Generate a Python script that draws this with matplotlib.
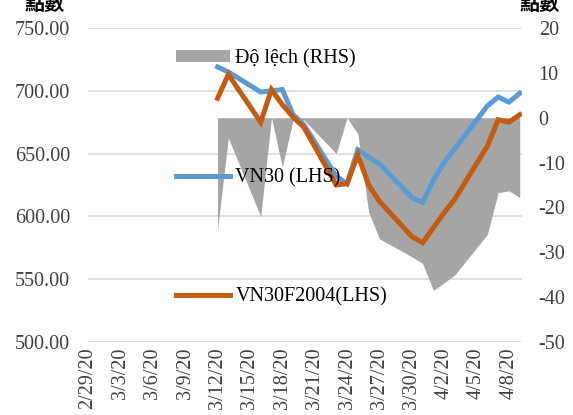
import numpy as np
import pandas as pd
import matplotlib
matplotlib.use('Agg')
import matplotlib.pyplot as plt
import matplotlib.dates as mdates
from matplotlib.transforms import blended_transform_factory
from matplotlib.patches import Patch
from matplotlib.lines import Line2D

# trading days shown on the chart
dates = ['2020-03-12', '2020-03-13', '2020-03-16', '2020-03-17', '2020-03-18',
         '2020-03-19', '2020-03-20', '2020-03-23', '2020-03-24', '2020-03-25',
         '2020-03-26', '2020-03-27', '2020-03-30', '2020-03-31', '2020-04-01',
         '2020-04-02', '2020-04-03', '2020-04-06', '2020-04-07', '2020-04-08',
         '2020-04-09']

# VN30 index (LHS)
vn30 = [719, 715, 699, 700, 701, 681, 673, 632, 626, 653, 647,
        642, 615, 611, 629, 643, 654, 688, 695, 691, 698]

# VN30F2004 futures (LHS)
vn30f = [694, 713, 675, 701, 689, 679, 671, 625, 626, 649, 625,
         612, 584, 579, 591, 603, 614, 656, 677, 675, 681]

# basis / deviation (RHS)
deviation = [-25, -4.5, -22, 0, -11, -0.5, -0.5, -8, 0, -3.6, -21,
             -27, -31, -32.5, -38.5, -36.8, -35, -26, -16.7, -16.3, -17.8]

left_ticks = [500, 550, 600, 650, 700, 750]
right_ticks = [-50, -40, -30, -20, -10, 0, 10, 20]

labels = ['Độ lệch (RHS)', 'VN30 (LHS)', 'VN30F2004(LHS)']

BLUE = '#5B9BD5'
ORANGE = '#C55A11'
GRAY = '#A5A5A5'

plt.rcParams['font.family'] = ['Liberation Serif', 'DejaVu Serif']
FS = 14.5

x = pd.to_datetime(dates)

fig = plt.figure(figsize=(5.73, 4.15), dpi=100)
ax = fig.add_axes([88 / 573, 1 - 342 / 415, (522 - 88) / 573, (342 - 28) / 415])
ax2 = ax.twinx()

ax.set_ylim(500, 750)
ax2.set_ylim(-50, 20)

# gray area drawn on the left axes but scaled by the right axis values
trans = blended_transform_factory(ax.transData, ax2.transData)
ax.fill_between(x, deviation, 0, color=GRAY, linewidth=0, transform=trans, zorder=1)

ax.plot(x, vn30, color=BLUE, lw=3.6, solid_joinstyle='miter', zorder=3)
ax.plot(x, vn30f, color=ORANGE, lw=3.6, solid_joinstyle='miter', zorder=4)

ax.set_yticks(left_ticks)
ax.set_yticklabels(['%.2f' % v for v in left_ticks])
ax2.set_yticks(right_ticks)
ax2.set_yticklabels([str(v) for v in right_ticks])

ax.set_axisbelow(True)
ax.grid(axis='y', color='#D9D9D9', lw=1.2)

xt = pd.date_range('2020-02-29', '2020-04-08', freq='3D')
ax.set_xticks(xt)
ax.set_xticklabels([d.strftime('%-m/%-d/%y') for d in xt], rotation=90,
                   va='top', ha='center')
ax.set_xlim(pd.Timestamp('2020-02-29'), pd.Timestamp('2020-04-09 05:00'))

for a in (ax, ax2):
    for s in a.spines.values():
        s.set_visible(False)
    a.tick_params(length=0, labelsize=FS, colors='#404040')
ax.tick_params(axis='y', pad=13)
ax2.tick_params(axis='y', pad=12)
ax.tick_params(axis='x', pad=4)

handles = [Patch(facecolor=GRAY, edgecolor='none'),
           Line2D([], [], color=BLUE, lw=3.6),
           Line2D([], [], color=ORANGE, lw=3.6)]
ax.legend(handles, labels, loc='upper left', bbox_to_anchor=(176 / 573, 1 - 49 / 415),
          bbox_transform=fig.transFigure, frameon=False, fontsize=FS,
          handlelength=2.7, handleheight=0.5, handletextpad=0.25,
          labelspacing=4.95, borderpad=0, borderaxespad=0)

fig.text(45 / 573, 1 - 3 / 415, '點數', family=['Noto Sans CJK TC', 'DejaVu Sans'],
         fontsize=FS, fontweight='bold', ha='center', va='center')
fig.text(540 / 573, 1 - 3 / 415, '點數', family=['Noto Sans CJK TC', 'DejaVu Sans'],
         fontsize=FS, fontweight='bold', ha='center', va='center')

fig.savefig('out.png', dpi=100)
